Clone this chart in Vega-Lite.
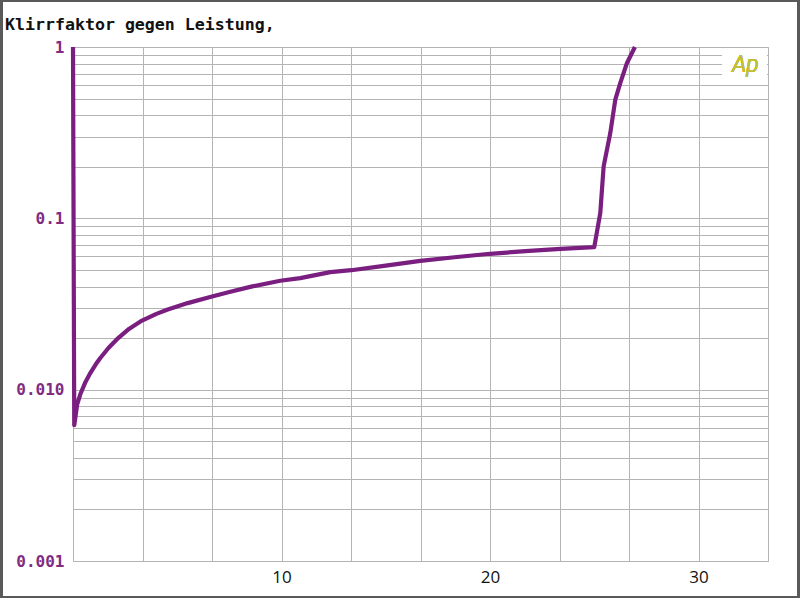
{
  "$schema": "https://vega.github.io/schema/vega-lite/v6.json",
  "autosize": "none",
  "width": 695,
  "height": 514,
  "padding": {"left": 73, "top": 47, "right": 32, "bottom": 38},
  "background": "white",
  "config": {"view": {"stroke": "#b4b4b4", "strokeWidth": 1}},
  "title": {
    "text": "Klirrfaktor gegen Leistung,",
    "anchor": "start",
    "frame": "group",
    "orient": "top",
    "dx": -68,
    "offset": -47,
    "baseline": "alphabetic",
    "font": "DejaVu Sans Mono",
    "fontSize": 16.6,
    "fontWeight": "bold",
    "color": "#111111"
  },
  "data": {
    "values": [
      {"power": 0.0, "thd": 1.0},
      {"power": 0.06, "thd": 0.0062},
      {"power": 0.2, "thd": 0.0082},
      {"power": 0.35, "thd": 0.0094},
      {"power": 0.6, "thd": 0.0111},
      {"power": 0.83, "thd": 0.0125},
      {"power": 1.1, "thd": 0.0141},
      {"power": 1.31, "thd": 0.0153},
      {"power": 1.7, "thd": 0.0175},
      {"power": 2.11, "thd": 0.0197},
      {"power": 2.7, "thd": 0.0227},
      {"power": 3.31, "thd": 0.0253},
      {"power": 4.0, "thd": 0.0277},
      {"power": 4.51, "thd": 0.0293},
      {"power": 5.5, "thd": 0.0320},
      {"power": 6.67, "thd": 0.0350},
      {"power": 7.5, "thd": 0.0372},
      {"power": 8.5, "thd": 0.0398},
      {"power": 9.94, "thd": 0.0432},
      {"power": 10.9, "thd": 0.0448},
      {"power": 12.34, "thd": 0.0485},
      {"power": 13.35, "thd": 0.0498},
      {"power": 15.0, "thd": 0.0530},
      {"power": 16.66, "thd": 0.0565},
      {"power": 18.3, "thd": 0.0593},
      {"power": 20.0, "thd": 0.0621},
      {"power": 21.7, "thd": 0.0643},
      {"power": 23.4, "thd": 0.0664},
      {"power": 25.0, "thd": 0.0680},
      {"power": 25.29, "thd": 0.1076},
      {"power": 25.45, "thd": 0.201},
      {"power": 25.77, "thd": 0.315},
      {"power": 26.01, "thd": 0.493},
      {"power": 26.25, "thd": 0.617},
      {"power": 26.57, "thd": 0.807},
      {"power": 26.95, "thd": 1.0}
    ]
  },
  "layer": [
    {
      "mark": {"type": "line", "color": "#7a1e80", "strokeWidth": 4.2, "strokeJoin": "round", "clip": false},
      "encoding": {
        "x": {
          "field": "power",
          "type": "quantitative",
          "scale": {"domain": [0, 33.3333], "nice": false, "zero": false},
          "axis": {
            "title": null,
            "values": [0, 3.33333, 6.66667, 10, 13.33333, 16.66667, 20, 23.33333, 26.66667, 30, 33.3333],
            "labelExpr": "datum.value == 10 ? '10' : datum.value == 20 ? '20' : datum.value == 30 ? '30' : ''",
            "ticks": false,
            "domain": false,
            "grid": true,
            "gridColor": "#b4b4b4",
            "gridWidth": 1,
            "gridOpacity": 1,
            "labelFont": "Open Sans",
            "labelFontSize": 17,
            "labelColor": "#111111",
            "labelPadding": 8,
            "labelOverlap": false,
            "labelFlush": false
          }
        },
        "y": {
          "field": "thd",
          "type": "quantitative",
          "scale": {"type": "log", "domain": [0.001, 1], "nice": false},
          "axis": {
            "title": null,
            "values": [0.001, 0.002, 0.003, 0.004, 0.005, 0.006, 0.007, 0.008, 0.009, 0.01, 0.02, 0.03, 0.04, 0.05, 0.06, 0.07, 0.08, 0.09, 0.1, 0.2, 0.3, 0.4, 0.5, 0.6, 0.7, 0.8, 0.9, 1],
            "labelExpr": "datum.value == 1 ? '1' : datum.value == 0.1 ? '0.1' : datum.value == 0.01 ? '0.010' : datum.value == 0.001 ? '0.001' : ''",
            "ticks": false,
            "domain": false,
            "grid": true,
            "gridColor": "#b4b4b4",
            "gridWidth": 1,
            "gridOpacity": 1,
            "labelFont": "DejaVu Sans Mono",
            "labelFontSize": 16,
            "labelFontWeight": "bold",
            "labelColor": "#7f2c82",
            "labelBaseline": "middle",
            "labelPadding": 9,
            "labelOverlap": false,
            "labelFlush": false
          }
        }
      }
    },
    {
      "mark": {"type": "rect", "fill": "white", "stroke": null},
      "encoding": {
        "x": {"datum": 31.15, "type": "quantitative"},
        "x2": {"datum": 33.25},
        "y": {"datum": 0.66, "type": "quantitative"},
        "y2": {"datum": 0.97}
      }
    },
    {
      "mark": {"type": "text", "text": "Ap", "color": "#c0c03a", "font": "Roboto", "fontStyle": "italic", "fontWeight": 300, "fontSize": 23, "align": "center", "baseline": "middle"},
      "encoding": {
        "x": {"datum": 32.25, "type": "quantitative"},
        "y": {"datum": 0.79, "type": "quantitative"}
      }
    },
    {
      "mark": {"type": "rect", "fill": null, "stroke": "#5a5a5a", "strokeWidth": 2, "clip": false},
      "encoding": {
        "x": {"datum": -3.44, "type": "quantitative"},
        "x2": {"datum": 34.8},
        "y": {"datum": 1.87, "type": "quantitative"},
        "y2": {"datum": 0.000617}
      }
    }
  ]
}
